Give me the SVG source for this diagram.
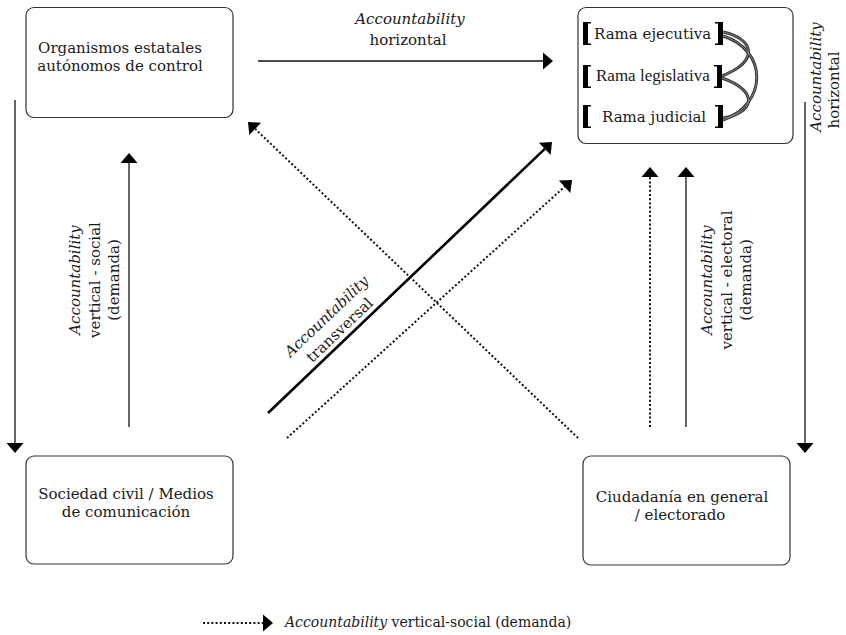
<svg xmlns="http://www.w3.org/2000/svg" width="846" height="635" viewBox="0 0 846 635">
<defs>
<style>
text{font-family:"DejaVu Serif","Liberation Serif",serif;font-size:15px;fill:#1a1a1a}
.c{text-anchor:middle}
.i{font-style:italic}
.sm{font-size:14px}
.cond{font-family:"Liberation Serif","DejaVu Serif",serif;font-size:17px}
.box{fill:#fff;stroke:#333;stroke-width:1.2}
.ln{fill:none;stroke:#111;stroke-width:1.3}
.thick{fill:none;stroke:#000;stroke-width:2.6}
.dot{fill:none;stroke:#111;stroke-width:2;stroke-dasharray:2 2.2}
.br{fill:#000}
.arc{fill:none;stroke:#333;stroke-width:3}
.arc2{fill:none;stroke:#999;stroke-width:0.8}
</style>
<marker id="ah" markerUnits="userSpaceOnUse" markerWidth="10" markerHeight="17" refX="0" refY="8.5" orient="auto" overflow="visible">
<path d="M0,0 L10,8.5 L0,17 z" fill="#000"/>
</marker>
</defs>
<rect width="846" height="635" fill="#fff"/>

<g id="node-organismos">
<rect class="box" x="26" y="7.5" width="207" height="110" rx="8"/>
<text class="c" x="120" y="53">Organismos estatales</text>
<text class="c" x="120" y="71">autónomos de control</text>
</g>

<g id="node-ramas">
<rect class="box" x="578" y="7.5" width="215" height="136" rx="8"/>
<g id="rama-ejecutiva">
<path class="br" d="M583,22 h8 v1.4 h-3 v20.2 h3 v1.4 h-8 z"/>
<text x="594" y="39">Rama ejecutiva</text>
<path class="br" d="M723,22 h-8 v1.4 h3 v20.2 h-3 v1.4 h8 z"/>
</g>
<g id="rama-legislativa">
<path class="br" d="M583,65 h8 v1.4 h-3 v20.2 h3 v1.4 h-8 z"/>
<text class="cond" x="596" y="81">Rama legislativa</text>
<path class="br" d="M722,65 h-8 v1.4 h3 v20.2 h-3 v1.4 h8 z"/>
</g>
<g id="rama-judicial">
<path class="br" d="M583,105 h8 v1.4 h-3 v20.2 h3 v1.4 h-8 z"/>
<text x="602" y="122">Rama judicial</text>
<path class="br" d="M723,105 h-8 v1.4 h3 v20.2 h-3 v1.4 h8 z"/>
</g>
<g id="rama-links">
<path class="arc" d="M723,32 C752,38 762,60 722,76"/>
<path class="arc" d="M723,36 C768,50 768,104 723,120"/>
<path class="arc" d="M722,78 C762,92 752,114 723,118"/>
<path class="arc2" d="M723,32 C752,38 762,60 722,76"/>
<path class="arc2" d="M723,36 C768,50 768,104 723,120"/>
<path class="arc2" d="M722,78 C762,92 752,114 723,118"/>
</g>
</g>

<g id="node-sociedad">
<rect class="box" x="26" y="456" width="207" height="108" rx="8"/>
<text class="c" x="126" y="499">Sociedad civil / Medios</text>
<text class="c" x="126" y="517">de comunicación</text>
</g>

<g id="node-ciudadania">
<rect class="box" x="583" y="456" width="207" height="109" rx="8"/>
<text class="c" x="682" y="502">Ciudadanía en general</text>
<text class="c" x="680" y="520">/ electorado</text>
</g>

<g id="connectors">
<line class="ln" x1="258" y1="61" x2="543" y2="61" marker-end="url(#ah)"/>
<line class="ln" x1="15" y1="100" x2="15" y2="443" marker-end="url(#ah)"/>
<line class="ln" x1="129" y1="427" x2="129" y2="163" marker-end="url(#ah)"/>
<line class="ln" x1="805" y1="102" x2="805" y2="443" marker-end="url(#ah)"/>
<line class="ln" x1="686" y1="427" x2="686" y2="177" marker-end="url(#ah)"/>
<line class="dot" x1="650" y1="427" x2="650" y2="177" marker-end="url(#ah)"/>
<line class="dot" x1="578" y1="438" x2="255.2" y2="128.9" marker-end="url(#ah)"/>
<line class="thick" x1="268" y1="413" x2="544.8" y2="148.9" marker-end="url(#ah)"/>
<line class="dot" x1="287" y1="438" x2="564.6" y2="186.7" marker-end="url(#ah)"/>
</g>

<g id="labels">
<text class="c i" x="410" y="24">Accountability</text>
<text class="c" x="408" y="45">horizontal</text>
<g transform="translate(821,77) rotate(-90)"><text class="c i" x="0" y="0">Accountability</text></g>
<g transform="translate(839,90) rotate(-90)"><text class="c" x="0" y="0">horizontal</text></g>
<g transform="translate(80,280) rotate(-90)">
<text class="c i" x="0" y="0">Accountability</text>
<text class="c" x="0" y="20">vertical - social</text>
<text class="c" x="0" y="39">(demanda)</text>
</g>
<g transform="translate(712,280) rotate(-90)">
<text class="c i" x="0" y="0">Accountability</text>
<text class="c" x="0" y="20">vertical - electoral</text>
<text class="c" x="0" y="39">(demanda)</text>
</g>
<g transform="translate(330,320) rotate(-43.7)">
<text class="c i" x="0" y="0">Accountability</text>
<text class="c" x="0" y="19">transversal</text>
</g>
</g>

<g id="legend">
<line class="dot" x1="203" y1="623" x2="263" y2="623" marker-end="url(#ah)"/>
<text class="sm" x="285" y="627"><tspan class="i">Accountability</tspan> vertical-social (demanda)</text>
</g>
</svg>
